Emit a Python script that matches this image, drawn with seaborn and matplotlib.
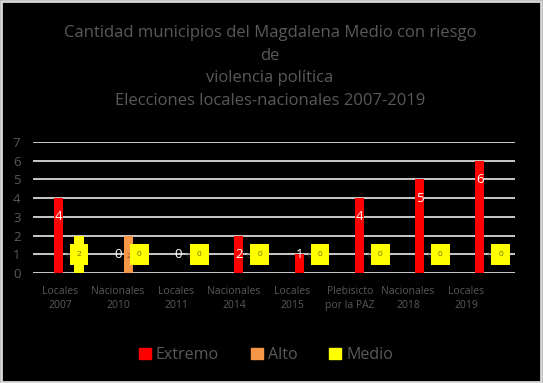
import pandas as pd
import seaborn as sns
import matplotlib.pyplot as plt
from matplotlib.patches import Rectangle

# datos
eventos = ['Locales\n2007', 'Nacionales\n2010', 'Locales\n2011', 'Nacionales\n2014',
           'Locales\n2015', 'Plebisicto\npor la PAZ', 'Nacionales\n2018', 'Locales\n2019']
extremo = [4, 0, 0, 2, 1, 4, 5, 6]
alto = [0, 2, 0, 0, 0, 0, 0, 0]
medio = [2, 0, 0, 0, 0, 0, 0, 0]
niveles = ['Extremo', 'Alto', 'Medio']
colores = ['#ff0000', '#f79646', '#ffff00']

df = pd.DataFrame({'evento': eventos * 3,
                   'nivel': [n for n in niveles for _ in eventos],
                   'valor': extremo + alto + medio})

gris = '#595959'
plt.rcParams['font.family'] = ['Open Sans', 'DejaVu Sans']

fig = plt.figure(figsize=(5.43, 3.83), dpi=100, facecolor='black')
fig.patches.append(Rectangle((0.002, 0.003), 0.994, 0.994, transform=fig.transFigure,
                             fill=False, edgecolor='#d9d9d9', linewidth=2))
ax = fig.add_axes([33 / 543, 1 - 273 / 383, 482 / 543, 131 / 383])
ax.set_facecolor('black')

sns.barplot(data=df, x='evento', y='valor', hue='nivel', palette=colores,
            saturation=1, width=0.52, gap=0.12, ax=ax, legend=False)

ax.set_xlim(-0.59, 7.41)
ax.set_ylim(0, 7)
ax.set_yticks(range(8))
ax.yaxis.grid(True, color='#d9d9d9', linewidth=1.3)
ax.set_axisbelow(True)
for s in ax.spines.values():
    s.set_visible(False)
ax.tick_params(length=0, colors=gris)
ax.tick_params(axis='y', pad=9, labelsize=9.5)
ax.set_xticks([-0.142 + 0.963 * i for i in range(8)])
ax.set_xticklabels(eventos, fontsize=7.5, color=gris, linespacing=1.4)
ax.tick_params(axis='x', pad=9)
ax.set_xlabel('')
ax.set_ylabel('')

paso = 0.52 / 3
for i in range(len(eventos)):
    # Extremo
    ax.text(i - paso, max(extremo[i] - 1, 1), str(extremo[i]), color='white',
            ha='center', va='center', fontsize=9.5)
    # Alto
    ax.text(i, 0.9, str(alto[i]), color='#7f4f2f' if alto[i] else '#404040',
            ha='center', va='center', fontsize=6)
    # Medio
    ax.text(i + paso, 1.0, str(medio[i]), color='#6f6f00', ha='center', va='center',
            fontsize=6, bbox=dict(boxstyle='square,pad=0.85', facecolor='#ffff00',
                                  edgecolor='none'))

fig.text(0.497, 1 - 67 / 383,
         'Cantidad municipios del Magdalena Medio con riesgo\nde\nviolencia política\n'
         'Elecciones locales-nacionales 2007-2019',
         ha='center', va='center', color=gris, fontsize=12, linespacing=1.55)

handles = [Rectangle((0, 0), 1, 1, color=c) for c in colores]
fig.legend(handles, niveles, loc='center', bbox_to_anchor=(0.49, 1 - 355 / 383),
           ncol=3, frameon=False, fontsize=11.5, labelcolor=gris,
           handlelength=0.75, handleheight=0.75, handletextpad=0.3, columnspacing=2.0)

fig.savefig('out.png', dpi=100, facecolor='black')
